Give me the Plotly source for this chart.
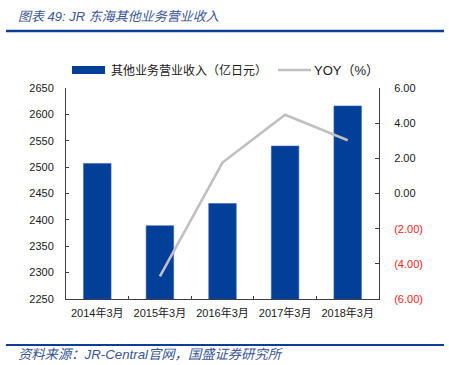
import plotly.graph_objects as go

categories = ["2014年3月", "2015年3月", "2016年3月", "2017年3月", "2018年3月"]
revenue = [2507, 2389, 2431, 2540, 2616]
yoy_cats = ["2015年3月", "2016年3月", "2017年3月", "2018年3月"]
yoy = [-4.71, 1.76, 4.48, 3.03]

left_ticks = [2250, 2300, 2350, 2400, 2450, 2500, 2550, 2600, 2650]
right_ticks = [-6, -4, -2, 0, 2, 4, 6]
right_text = ["<span style='color:#ff2020'>(6.00)</span>",
              "<span style='color:#ff2020'>(4.00)</span>",
              "<span style='color:#ff2020'>(2.00)</span>",
              "0.00", "2.00", "4.00", "6.00"]

W, H = 449, 365
L, R, T, B = 66, 379, 88, 299

def px(x):
    return (x - L) / (R - L)

def py(y):
    return (B - y) / (B - T)

BAR = "#023f98"
LINEC = "#c0c0c0"
FONT = "Liberation Sans, Noto Sans CJK SC, sans-serif"

fig = go.Figure()
fig.add_trace(go.Bar(x=categories, y=revenue, marker=dict(color=BAR, line=dict(color="#3d66b0", width=0.6)),
                     name="其他业务营业收入（亿日元）", showlegend=False, yaxis="y"))
fig.add_trace(go.Scatter(x=yoy_cats, y=yoy, mode="lines", line=dict(color=LINEC, width=2.6),
                         name="YOY（%）", showlegend=False, yaxis="y2"))

axcol = "#404040"
fig.update_layout(
    width=W, height=H,
    margin=dict(l=L, r=W - R, t=T, b=H - B, pad=0),
    paper_bgcolor="white", plot_bgcolor="white",
    bargap=0.56,
    font=dict(family=FONT, size=11, color="#1a1a1a"),
    xaxis=dict(showline=True, linecolor=axcol, linewidth=1, ticks="inside", ticklen=3,
               tickcolor=axcol, tickson="boundaries", showgrid=False,
               tickfont=dict(size=11, family=FONT, color="#1a1a1a"), ticklabelstandoff=4),
    yaxis=dict(range=[2250, 2650], tickvals=left_ticks, showline=True, linecolor=axcol,
               linewidth=1, ticks="inside", ticklen=3, tickcolor=axcol, showgrid=False,
               zeroline=False, tickfont=dict(size=11, family=FONT), ticklabelstandoff=9),
    yaxis2=dict(range=[-6, 6], overlaying="y", side="right", tickvals=right_ticks,
                ticktext=right_text, showline=True, linecolor=axcol, linewidth=1,
                ticks="inside", ticklen=4, tickcolor=axcol, showgrid=False, zeroline=False,
                tickfont=dict(size=11, family=FONT), ticklabelstandoff=12),
)

shapes = []
annotations = []
# header rule
shapes.append(dict(type="line", xref="paper", yref="paper", x0=px(6), x1=px(444), y0=py(31), y1=py(31),
                   line=dict(color="#0b3e94", width=2.5)))
# footer rule
shapes.append(dict(type="line", xref="paper", yref="paper", x0=px(6), x1=px(444), y0=py(345), y1=py(345),
                   line=dict(color="#0b3e94", width=2)))
# legend
shapes.append(dict(type="rect", xref="paper", yref="paper", x0=px(72), x1=px(105), y0=py(74), y1=py(66),
                   fillcolor=BAR, line=dict(width=0)))
shapes.append(dict(type="line", xref="paper", yref="paper", x0=px(278), x1=px(311), y0=py(70), y1=py(70),
                   line=dict(color=LINEC, width=2.6)))
annotations.append(dict(xref="paper", yref="paper", x=px(109), y=py(70), xanchor="left", yanchor="middle",
                        text="其他业务营业收入（亿日元）", showarrow=False,
                        font=dict(size=12, family=FONT, color="#1a1a1a")))
annotations.append(dict(xref="paper", yref="paper", x=px(312), y=py(70), xanchor="left", yanchor="middle",
                        text="YOY（%）", showarrow=False,
                        font=dict(size=13, family=FONT, color="#1a1a1a")))
# title
annotations.append(dict(xref="paper", yref="paper", x=px(16), y=py(16), xanchor="left", yanchor="middle",
                        text="<i>图表 49: JR 东海其他业务营业收入</i>", showarrow=False,
                        font=dict(size=13, family=FONT, color="#3a5596")))
# footer
annotations.append(dict(xref="paper", yref="paper", x=px(16), y=py(354), xanchor="left", yanchor="middle",
                        text="<i>资料来源：JR-Central官网，国盛证券研究所</i>", showarrow=False,
                        font=dict(size=13.3, family=FONT, color="#3a5596")))

fig.update_layout(shapes=shapes, annotations=annotations)
fig.write_html("out.html")
